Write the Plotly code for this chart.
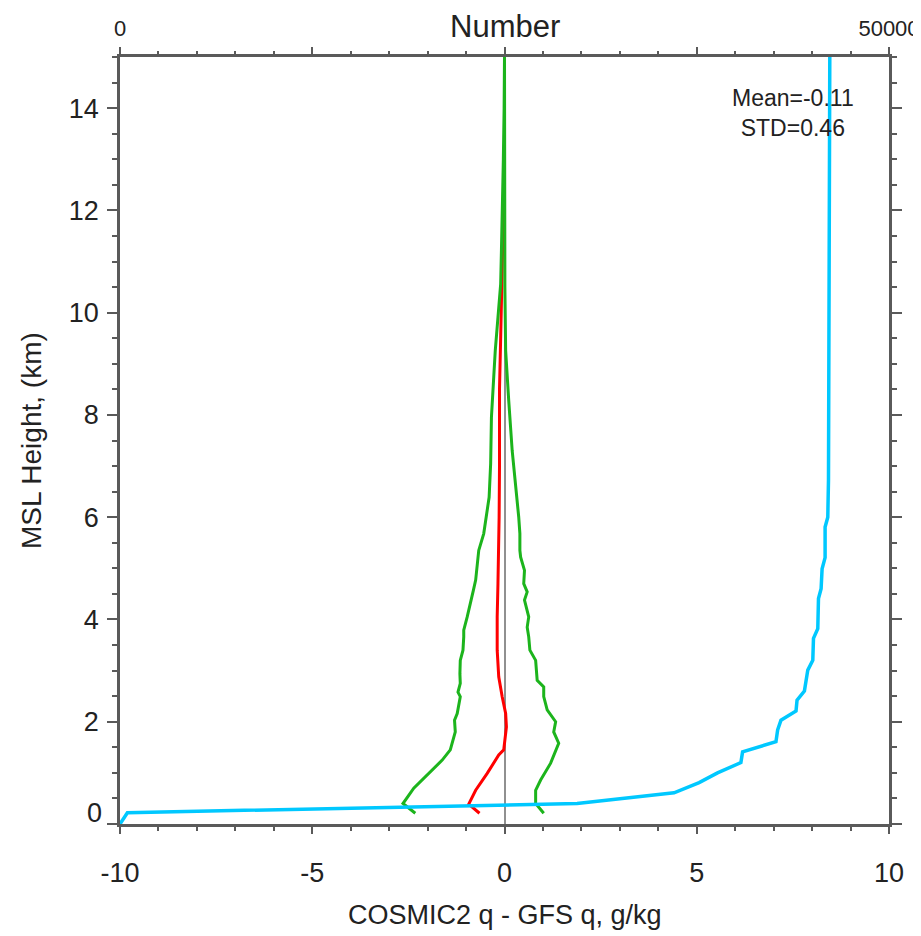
import plotly.graph_objects as go

# mean of (COSMIC2 q - GFS q) per height
mean_h = [0.21, 0.39, 0.66, 0.99, 1.35, 1.45, 1.9, 2.16, 2.49, 2.88, 3.4, 4.05, 4.7, 5.35,
          6.0, 7.0, 8.0, 8.5, 9.5, 10.6, 11.2, 12.0, 13.0, 14.0, 15.0]
mean_q = [-0.65, -0.93, -0.75, -0.45, -0.15, -0.02, 0.05, 0.03, -0.06, -0.15, -0.19, -0.19, -0.17, -0.15,
          -0.14, -0.13, -0.13, -0.13, -0.1, -0.07, -0.05, -0.02, 0.0, 0.0, 0.0]

# mean - std
lo_h = [0.21, 0.40, 0.70, 0.89, 1.25, 1.45, 1.80, 2.03, 2.16, 2.49, 2.58, 2.75, 2.94, 3.20, 3.40,
        3.66, 3.79, 4.05, 4.31, 4.57, 4.77, 5.09, 5.35, 5.68, 6.0, 6.39, 7.05, 7.95, 8.74, 9.26,
        9.91, 10.56, 11.21, 12.0, 13.0, 14.0, 15.0]
lo_q = [-2.32, -2.64, -2.36, -2.10, -1.62, -1.41, -1.28, -1.30, -1.23, -1.15, -1.21, -1.15, -1.16, -1.15, -1.08,
        -1.06, -1.06, -0.97, -0.90, -0.81, -0.75, -0.71, -0.67, -0.54, -0.47, -0.40, -0.36, -0.34, -0.28, -0.24,
        -0.17, -0.10, -0.08, -0.05, -0.03, -0.01, 0.0]

# mean + std
hi_h = [0.21, 0.40, 0.66, 0.86, 1.19, 1.58, 1.80, 2.00, 2.23, 2.49, 2.68, 2.81, 3.20, 3.40, 3.66,
        3.85, 4.05, 4.38, 4.54, 4.70, 4.96, 5.22, 5.35, 5.68, 6.0, 6.65, 7.3, 8.28, 9.26, 10.5, 15.0]
hi_q = [1.02, 0.81, 0.81, 0.94, 1.20, 1.41, 1.28, 1.33, 1.11, 1.02, 1.02, 0.85, 0.81, 0.66, 0.63,
        0.59, 0.63, 0.52, 0.59, 0.50, 0.52, 0.42, 0.40, 0.40, 0.37, 0.29, 0.20, 0.11, 0.03, 0.01, 0.0]

# number of obs (top axis)
num_h = [0.0, 0.22, 0.40, 0.61, 0.81, 1.00, 1.20, 1.41, 1.61, 1.84, 2.03, 2.21, 2.42, 2.60, 3.01, 3.20,
         3.63, 3.82, 4.41, 4.60, 4.99, 5.21, 5.81, 6.00, 6.72, 15.0]
num_n = [0, 480, 29720, 36025, 37655, 38850, 40370, 40480, 42650, 42760, 42975, 43955, 44020, 44500, 44720, 45045,
         45090, 45370, 45415, 45585, 45650, 45845, 45845, 46020, 46065, 46150]

x_ticks = [-10, -5, 0, 5, 10]
x_labels = ["-10", "-5", "0", "5", "10"]
y_ticks = [0, 2, 4, 6, 8, 10, 12, 14]
y_labels = ["", "2", "4", "6", "8", "10", "12", "14"]

fnt = "Liberation Sans"
axcol = "#5a5a5a"

fig = go.Figure()
fig.add_trace(go.Scatter(x=mean_q, y=mean_h, mode="lines", line=dict(color="#ff0000", width=3)))
fig.add_trace(go.Scatter(x=lo_q, y=lo_h, mode="lines", line=dict(color="#1cb41c", width=3)))
fig.add_trace(go.Scatter(x=hi_q, y=hi_h, mode="lines", line=dict(color="#1cb41c", width=3)))
fig.add_trace(go.Scatter(x=num_n, y=num_h, mode="lines", xaxis="x2", line=dict(color="#00c8ff", width=3.5)))

# page has ~8px body offset, so the figure is a bit smaller than the window
fig.update_layout(
    width=913, height=928,
    margin=dict(l=112, r=32, t=49, b=112, autoexpand=False),
    paper_bgcolor="white", plot_bgcolor="white",
    showlegend=False,
    font=dict(family=fnt, color="#222"),
    xaxis=dict(range=[-10, 10], tickmode="array", tickvals=x_ticks, ticktext=x_labels,
               ticks="outside", ticklen=7, tickwidth=2,
               tickcolor=axcol, minor=dict(dtick=1, ticklen=4, tickwidth=1.5, tickcolor=axcol, ticks="outside"),
               showline=True, linecolor=axcol, linewidth=2.5, mirror=True, showgrid=False,
               zeroline=True, zerolinecolor="#909090", zerolinewidth=1.5, automargin=False,
               tickfont=dict(size=27), ticklabelstandoff=16),
    xaxis2=dict(range=[0, 50000], overlaying="x", side="top", tickmode="array",
                tickvals=[0, 12500, 25000, 37500, 50000], ticktext=["0", "", "", "", "50000"],
                ticks="outside", ticklen=9, tickwidth=2, tickcolor=axcol,
                minor=dict(dtick=2500, ticklen=5, tickwidth=1.5, tickcolor=axcol, ticks="outside"),
                showline=False, showgrid=False, zeroline=False, automargin=False,
                tickfont=dict(size=22), ticklabelstandoff=2),
    yaxis=dict(range=[0, 15], tickmode="array", tickvals=y_ticks, ticktext=y_labels,
               ticks="outside", ticklen=10, tickwidth=2, tickcolor=axcol,
               minor=dict(dtick=0.5, ticklen=5, tickwidth=1.5, tickcolor=axcol, ticks="outside"),
               showline=True, linecolor=axcol, linewidth=2.5, mirror="ticks", showgrid=False, zeroline=False,
               automargin=False, tickfont=dict(size=27), ticklabelstandoff=3),
    annotations=[
        dict(text="0", xref="paper", x=0, yref="y", y=0.22, xanchor="right", xshift=-16,
             showarrow=False, font=dict(size=27)),
        dict(text="Number", xref="paper", x=0.5, yref="paper", y=1, yanchor="middle", yshift=31,
             showarrow=False, font=dict(size=31)),
        dict(text="COSMIC2 q - GFS q, g/kg", xref="paper", x=0.5, yref="paper", y=0, yanchor="middle",
             yshift=-91, showarrow=False, font=dict(size=27)),
        dict(text="MSL Height, (km)", xref="paper", x=0, xshift=-106, yref="paper", y=0.5, textangle=-90,
             showarrow=False, font=dict(size=28)),
        dict(text="Mean=-0.11<br>STD=0.46", xref="x", x=7.5, yref="y", y=13.9, showarrow=False,
             font=dict(size=23)),
    ],
)

fig.write_html("out.html")
